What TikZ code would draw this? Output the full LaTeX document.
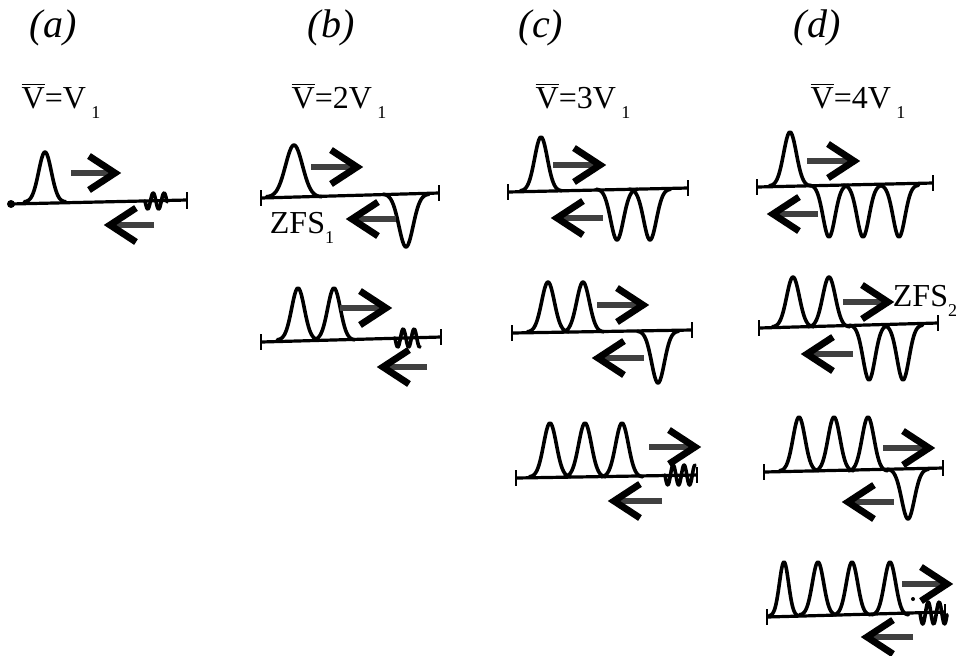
\documentclass[tikz,border=0pt]{standalone}
\usepackage{fontspec}
\setmainfont{Liberation Serif}
\usetikzlibrary{arrows.meta}
\tikzset{
	trace/.style={line width=1.8pt, line cap=round, line join=round},
	axisline/.style={line width=1.6pt},
	shaft/.style={line width=3pt, black!75},
	barb/.style={line width=3.4pt, line join=miter},
	volt/.style={font=\fontsize{16}{16}\selectfont, inner sep=0pt},
	panel/.style={font=\fontsize{20}{20}\selectfont\itshape, inner sep=0pt}
}
% x, base, peak, width
\newcommand{\pulse}[4]{\draw[trace] plot[domain=-2.3*#4:2.3*#4, samples=41, smooth, variable=\t] ({#1+\t},{#2+(#3-#2)*exp(-(\t/#4)^2)});}
% x1, y1, x2, y2
\newcommand{\axisrow}[4]{
	\draw[axisline] (#1,#2) -- (#3,#4);
	\draw[line width=1.2pt] (#1,#2-8) -- (#1,#2+8);
	\draw[line width=1.2pt] (#3,#4-8) -- (#3,#4+8);
}
% tail x, tip x, y
\newcommand{\rarr}[3]{
	\draw[shaft] (#1,#3) -- (#2-5,#3);
	\draw[barb] (#2-26,#3-17) -- (#2,#3) -- (#2-26,#3+17);
}
\newcommand{\larr}[3]{
	\draw[shaft] (#1,#3) -- (#2+5,#3);
	\draw[barb] (#2+26,#3-17) -- (#2,#3) -- (#2+26,#3+17);
}
% x1, x2, y, amplitude
\newcommand{\wiggle}[4]{\draw[trace] plot[domain=#1:#2, samples=40, smooth, variable=\t] ({\t},{#3+#4*sin(33*(\t-#1))});}
\newcommand{\vbar}{$\overline{\mbox{V}}$}
\newcommand{\sub}[1]{\raisebox{-5pt}{\fontsize{9}{9}\selectfont #1}}
\begin{document}
\begin{tikzpicture}[x=.5pt,y=-.5pt]
	\useasboundingbox (0,0) rectangle (959,655);
	% panel letters
	\node[panel] (pa) at (53,28) {(a)};
	\node[panel] (pb) at (331,28) {(b)};
	\node[panel] (pc) at (541,28) {(c)};
	\node[panel] (pd) at (817,28) {(d)};
	% voltage labels
	\node[volt] (va) at (61,101) {\vbar=V\,\sub{1}};
	\node[volt] (vb) at (339,101) {\vbar=2V\,\sub{1}};
	\node[volt] (vc) at (583,101) {\vbar=3V\,\sub{1}};
	\node[volt] (vd) at (858,101) {\vbar=4V\,\sub{1}};
	\node[volt] (zfsa) at (302,228) {ZFS\sub{1}};
	\node[volt] (zfsb) at (925,301) {ZFS\sub{2}};

	% column a
	\draw[axisline] (10,204) -- (187,200);
	\fill (11,204) circle (2pt);
	\draw[line width=1.2pt] (187,192) -- (187,209);
	\pulse{45}{202}{152}{9}
	\wiggle{145}{167}{201}{8}
	\rarr{71}{115}{173}
	\larr{154}{110}{225}

	% column b
	\axisrow{261}{198}{439}{193}
	\pulse{294}{197}{145}{12}
	\pulse{406}{194}{247}{10}
	\rarr{311}{357}{167}
	\larr{396}{352}{219}

	\axisrow{261}{342}{441}{337}
	\foreach \p in {298,334} {\pulse{\p}{340}{288}{9}}
	\wiggle{395}{420}{338}{9}
	\rarr{340}{386}{308}
	\larr{427}{383}{367}

	% column c
	\axisrow{508}{192}{688}{188}
	\pulse{541}{191}{137}{9}
	\foreach \p in {617,650} {\pulse{\p}{189}{240}{9}}
	\rarr{553}{600}{165}
	\larr{603}{557}{218}

	\axisrow{512}{333}{692}{330}
	\foreach \p in {548,583} {\pulse{\p}{332}{282}{9}}
	\pulse{658}{331}{383}{9}
	\rarr{597}{643}{305}
	\larr{644}{598}{358}

	\axisrow{516}{478}{697}{475}
	\foreach \p in {550,585,622} {\pulse{\p}{477}{423}{9}}
	\wiggle{665}{695}{475}{10}
	\rarr{649}{695}{447}
	\larr{662}{614}{501}

	% column d
	\axisrow{757}{187}{933}{183}
	\pulse{790}{186}{132}{9}
	\foreach \p in {829,863,899} {\pulse{\p}{185}{237}{8.5}}
	\rarr{807}{854}{161}
	\larr{818}{773}{214}

	\axisrow{759}{328}{938}{323}
	\foreach \p in {793,829} {\pulse{\p}{327}{277}{9}}
	\foreach \p in {869,903} {\pulse{\p}{325}{380}{8.5}}
	\rarr{843}{888}{302}
	\larr{853}{807}{354}

	\axisrow{764}{472}{943}{468}
	\foreach \p in {799,834,868} {\pulse{\p}{471}{417}{8.5}}
	\pulse{908}{469}{519}{9}
	\rarr{883}{929}{448}
	\larr{894}{848}{502}

	\axisrow{767}{617}{945}{612}
	\pulse{784}{616}{562}{6.5}
	\foreach \p in {818,852,890} {\pulse{\p}{615}{562}{8}}
	\wiggle{920}{947}{613}{11}
	\rarr{902}{947}{584}
	\larr{913}{867}{637}
	\fill (913,599) circle (1pt);
\end{tikzpicture}
\end{document}
